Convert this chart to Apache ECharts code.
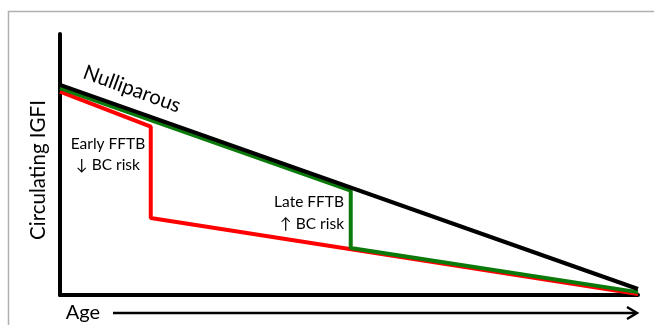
<!DOCTYPE html>
<html>
<head>
<meta charset="utf-8">
<script src="https://cdn.jsdelivr.net/npm/echarts@6/dist/echarts.min.js"></script>
<style>
  html, body { margin: 0; padding: 0; background: #fff; }
  #chart { width: 654px; height: 325px; }
</style>
</head>
<body>
<div id="chart"></div>
<script>
// age is 0..100 along the x axis, IGFI 0..100 along the y axis
var nulliparous = [[0, 80.5], [100, 2.3]];
var lateFftb = [[0, 79.3], [50.3, 40], [50.3, 18], [100, 1.1]];
var earlyFftb = [[0, 77.9], [15.7, 64.5], [15.7, 29.5], [100, 0.4]];

var yTitle = 'Circulating IGFI';
var xTitle = 'Age';
var lineLabel = 'Nulliparous';
var earlyLabel = ['Early FFTB', '\u2193 BC risk'];
var lateLabel = ['Late FFTB', '\u2191 BC risk'];

var chartDom = document.getElementById('chart');
var myChart = echarts.init(chartDom);
var font = 'Lato, "Open Sans", sans-serif';

var option = {
  animation: false,
  backgroundColor: '#fff',
  grid: {
    left: 60,
    right: 16,
    top: 34,
    bottom: 30
  },
  xAxis: {
    type: 'value',
    min: 0,
    max: 100,
    axisLine: { show: true, onZero: false, lineStyle: { color: '#000', width: 4 } },
    axisTick: { show: false },
    axisLabel: { show: false },
    splitLine: { show: false }
  },
  yAxis: {
    type: 'value',
    min: 0,
    max: 100,
    axisLine: { show: true, onZero: false, lineStyle: { color: '#000', width: 4 } },
    axisTick: { show: false },
    axisLabel: { show: false },
    splitLine: { show: false }
  },
  series: [{
    type: 'line',
    data: earlyFftb,
    symbol: 'none',
    z: 2,
    lineStyle: { color: '#ff0000', width: 4 }
  }, {
    type: 'line',
    data: lateFftb,
    symbol: 'none',
    z: 3,
    lineStyle: { color: '#0b7a0b', width: 4 }
  }, {
    type: 'line',
    data: nulliparous,
    symbol: 'none',
    z: 4,
    lineStyle: { color: '#000', width: 4 }
  }],
  graphic: [
    // outer frame
    {
      type: 'polyline',
      shape: { points: [[8.5, 325], [8.5, 11.5], [654, 11.5]] },
      style: { stroke: '#b0b0b0', lineWidth: 1.5, fill: null },
      silent: true
    },
    {
      type: 'text',
      x: 38, y: 170,
      rotation: Math.PI / 2,
      style: { text: yTitle, font: '20.5px ' + font, fill: '#000', align: 'center', verticalAlign: 'middle' }
    },
    {
      type: 'text',
      x: 83, y: 313,
      style: { text: xTitle, font: '20px ' + font, fill: '#000', align: 'center', verticalAlign: 'middle' }
    },
    {
      type: 'line',
      shape: { x1: 113, y1: 313, x2: 636, y2: 313 },
      style: { stroke: '#000', lineWidth: 2.5 }
    },
    {
      type: 'polyline',
      shape: { points: [[627, 307], [637, 313], [627, 319]] },
      style: { stroke: '#000', lineWidth: 2.5, fill: null }
    },
    {
      type: 'text',
      x: 132, y: 89,
      rotation: -0.35,
      style: { text: lineLabel, font: '20.5px ' + font, fill: '#000', align: 'center', verticalAlign: 'middle' }
    },
    {
      type: 'text',
      x: 108, y: 144,
      style: { text: earlyLabel[0], font: '15.5px ' + font, fill: '#000', align: 'center', verticalAlign: 'middle' }
    },
    {
      type: 'text',
      x: 108, y: 165,
      style: { text: earlyLabel[1], font: '15.5px ' + font, fill: '#000', align: 'center', verticalAlign: 'middle' }
    },
    {
      type: 'text',
      x: 344, y: 202,
      style: { text: lateLabel[0], font: '15.5px ' + font, fill: '#000', align: 'right', verticalAlign: 'middle' }
    },
    {
      type: 'text',
      x: 344, y: 224,
      style: { text: lateLabel[1], font: '15.5px ' + font, fill: '#000', align: 'right', verticalAlign: 'middle' }
    }
  ]
};

option && myChart.setOption(option);
</script>
</body>
</html>
